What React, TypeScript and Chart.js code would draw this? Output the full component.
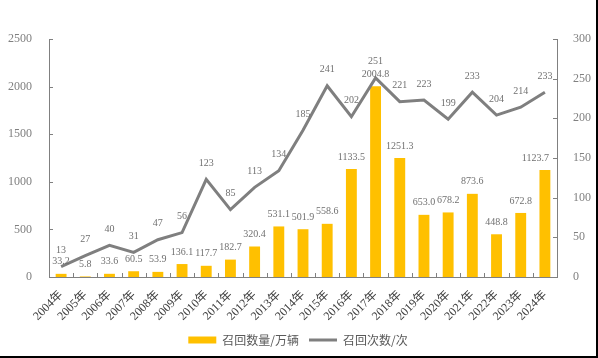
import React, { useEffect, useRef } from 'react';
import { Chart, registerables } from 'chart.js';

Chart.register(...registerables);

const categories = ['2004年', '2005年', '2006年', '2007年', '2008年', '2009年', '2010年', '2011年', '2012年', '2013年', '2014年', '2015年', '2016年', '2017年', '2018年', '2019年', '2020年', '2021年', '2022年', '2023年', '2024年'];
const recallVolume = [33.2, 5.8, 33.6, 60.5, 53.9, 136.1, 117.7, 182.7, 320.4, 531.1, 501.9, 558.6, 1133.5, 2004.8, 1251.3, 653.0, 678.2, 873.6, 448.8, 672.8, 1123.7];
const recallCount = [13, 27, 40, 31, 47, 56, 123, 85, 113, 134, 185, 241, 202, 251, 221, 223, 199, 233, 204, 214, 233];
const leftTicks = [0, 500, 1000, 1500, 2000, 2500];
const rightTicks = [0, 50, 100, 150, 200, 250, 300];
const seriesNames = ['召回数量/万辆', '召回次数/次'];

const BAR_COLOR = '#FFC000';
const LINE_COLOR = '#7F7F7F';
const AXIS_COLOR = '#808080';
const SERIF = '"Liberation Serif", "Noto Sans CJK SC", serif';

const dataLabelPlugin = {
  id: 'dataLabels',
  afterDatasetsDraw(chart: any) {
    const ctx = chart.ctx;
    const maxRight = chart.chartArea.right - 8;
    ctx.save();
    ctx.font = '10px ' + SERIF;
    ctx.fillStyle = '#707070';
    ctx.textAlign = 'center';
    ctx.textBaseline = 'bottom';
    const barMeta = chart.getDatasetMeta(0);
    barMeta.data.forEach((el: any, i: number) => {
      const text = recallVolume[i].toFixed(1);
      const w = ctx.measureText(text).width;
      const cx = Math.min(el.x, maxRight - w / 2);
      ctx.fillText(text, cx, el.y - 7);
    });
    const lineMeta = chart.getDatasetMeta(1);
    lineMeta.data.forEach((el: any, i: number) => {
      ctx.fillText(String(recallCount[i]), el.x, el.y - 11);
    });
    ctx.restore();
  },
};

const innerTicksPlugin = {
  id: 'innerTicks',
  afterDraw(chart: any) {
    const ctx = chart.ctx;
    const { left, right, bottom } = chart.chartArea;
    const yL = chart.scales.y;
    const yR = chart.scales.y1;
    const x = chart.scales.x;
    ctx.save();
    ctx.strokeStyle = AXIS_COLOR;
    ctx.lineWidth = 1;
    ctx.beginPath();
    leftTicks.forEach((v) => {
      const py = Math.round(yL.getPixelForValue(v)) + 0.5;
      ctx.moveTo(left, py);
      ctx.lineTo(left + 4, py);
    });
    rightTicks.forEach((v) => {
      const py = Math.round(yR.getPixelForValue(v)) + 0.5;
      ctx.moveTo(right, py);
      ctx.lineTo(right - 4, py);
    });
    const n = categories.length;
    const w = (x.right - x.left) / n;
    for (let i = 1; i < n; i++) {
      const px = Math.round(x.left + w * i) + 0.5;
      ctx.moveTo(px, bottom);
      ctx.lineTo(px, bottom - 4);
    }
    ctx.stroke();
    ctx.restore();
  },
};

export default function App() {
  const canvasRef = useRef<HTMLCanvasElement | null>(null);

  useEffect(() => {
    document.body.style.margin = '0';
    const canvas = canvasRef.current;
    if (!canvas) return;
    const chart = new Chart(canvas, {
      type: 'bar',
      data: {
        labels: categories,
        datasets: [
          {
            type: 'bar',
            label: seriesNames[0],
            data: recallVolume,
            backgroundColor: BAR_COLOR,
            borderWidth: 0,
            barPercentage: 0.45,
            categoryPercentage: 1,
            yAxisID: 'y',
            order: 1,
          },
          {
            type: 'line',
            label: seriesNames[1],
            data: recallCount,
            borderColor: LINE_COLOR,
            backgroundColor: LINE_COLOR,
            borderWidth: 3,
            pointRadius: 0,
            tension: 0,
            yAxisID: 'y1',
            order: 0,
          },
        ] as any,
      },
      options: {
        animation: false,
        responsive: true,
        maintainAspectRatio: false,
        layout: { padding: { top: 39, left: 0, right: 0, bottom: 0 } },
        plugins: {
          tooltip: { enabled: false },
          legend: {
            position: 'bottom',
            labels: {
              usePointStyle: true,
              pointStyleWidth: 28,
              boxHeight: 7,
              padding: 10,
              color: '#595959',
              font: { size: 12, family: '"Noto Sans CJK SC", sans-serif' },
              sort: (a: any, b: any) => a.datasetIndex - b.datasetIndex,
              generateLabels: (chart: any) => {
                return chart.data.datasets.map((ds: any, i: number) => ({
                  text: ds.label,
                  fillStyle: i === 0 ? BAR_COLOR : LINE_COLOR,
                  strokeStyle: i === 0 ? BAR_COLOR : LINE_COLOR,
                  lineWidth: i === 0 ? 0 : 3,
                  pointStyle: i === 0 ? 'rect' : 'line',
                  fontColor: '#595959',
                  hidden: false,
                  datasetIndex: i,
                }));
              },
            },
          },
        },
        scales: {
          x: {
            grid: { display: false },
            border: { display: true, color: AXIS_COLOR, width: 1 },
            ticks: {
              color: '#404040',
              font: { size: 12, family: SERIF },
              maxRotation: 45,
              minRotation: 45,
              autoSkip: false,
              padding: 3,
            },
            afterFit: (scale: any) => {
              scale.height = 47;
            },
          },
          y: {
            position: 'left',
            min: 0,
            max: 2500,
            afterBuildTicks: (scale: any) => {
              scale.ticks = leftTicks.map((v) => ({ value: v }));
            },
            grid: { display: false },
            border: { display: true, color: AXIS_COLOR, width: 1 },
            ticks: {
              color: '#808080',
              font: { size: 12, family: SERIF },
              padding: 9,
              callback: (v: any) => String(v),
            },
            afterFit: (scale: any) => {
              scale.width = 49;
            },
          },
          y1: {
            position: 'right',
            min: 0,
            max: 300,
            afterBuildTicks: (scale: any) => {
              scale.ticks = rightTicks.map((v) => ({ value: v }));
            },
            grid: { display: false },
            border: { display: true, color: AXIS_COLOR, width: 1 },
            ticks: {
              color: '#808080',
              font: { size: 12, family: SERIF },
              padding: 8,
              callback: (v: any) => String(v),
            },
            afterFit: (scale: any) => {
              scale.width = 39;
            },
          },
        },
      } as any,
      plugins: [dataLabelPlugin, innerTicksPlugin],
    });
    return () => chart.destroy();
  }, []);

  return (
    <div
      style={{
        width: 598,
        height: 358,
        boxSizing: 'border-box',
        borderRight: '2px solid #000',
        borderBottom: '2px solid #000',
        background: '#fff',
      }}
    >
      <div style={{ position: 'relative', width: 596, height: 356 }}>
        <canvas ref={canvasRef} />
      </div>
    </div>
  );
}
